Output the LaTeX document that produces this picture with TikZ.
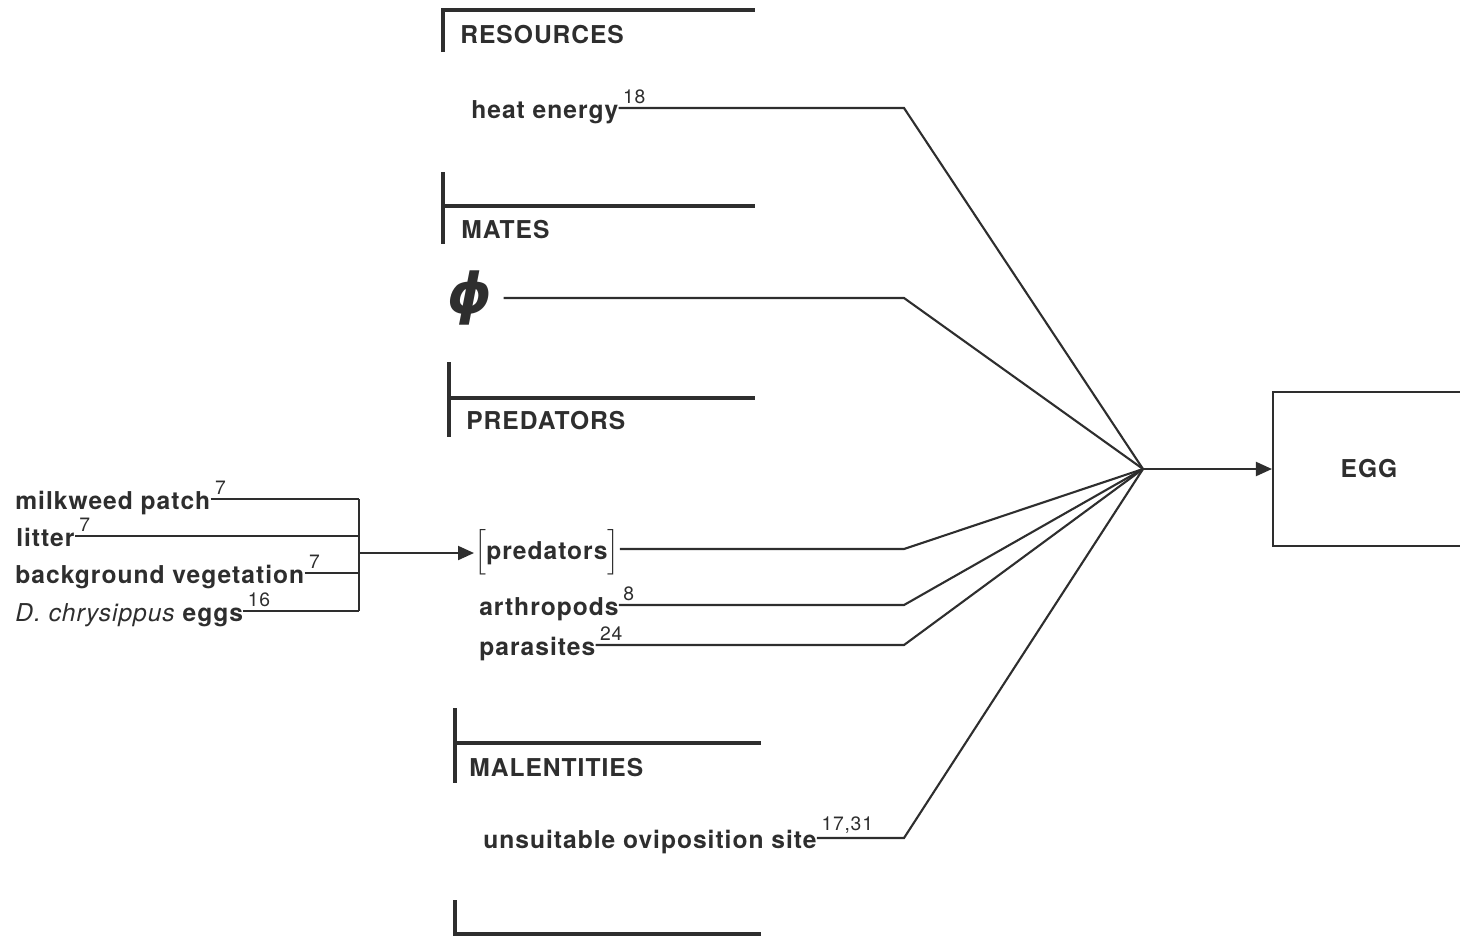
\documentclass[tikz,border=0pt]{standalone}
\usepackage{amsmath}
\usepackage{fontspec}
\setmainfont{TeX Gyre Heros}[LetterSpace=4]
\newfontfamily\symfont{DejaVu Sans}
\usetikzlibrary{arrows.meta}

\colorlet{ink}{black!82}

\begin{document}
\begin{tikzpicture}[x=0.02cm, y=-0.02cm, >={Triangle[length=3.2mm,width=2.8mm]},
  every node/.style={text=ink},
  item/.style={anchor=west, inner sep=0pt, text height=11.4pt, text depth=0pt,
    font=\fontsize{14}{16}\selectfont\bfseries},
  hdr/.style={anchor=north west, inner sep=0pt, font=\fontsize{14}{16}\selectfont\bfseries},
  refno/.style={anchor=south west, inner sep=2pt, font=\fontsize{11}{12}\selectfont},
  wire/.style={draw=ink, line width=1.2pt},
  rule/.style={draw=ink, line width=2.6pt}]

  \useasboundingbox (0,0) rectangle (1460,938);

  % headings
  \draw[rule] (443,52) -- (443,10) -- (755,10);
  \node[hdr] (res) at (460,25) {RESOURCES};
  \draw[rule] (443,172) -- (443,244);
  \draw[rule] (443,206) -- (755,206);
  \node[hdr] (mates) at (461,220) {MATES};
  \draw[rule] (449,362) -- (449,437);
  \draw[rule] (449,398) -- (755,398);
  \node[hdr] (predhdr) at (466,411) {PREDATORS};
  \draw[rule] (455,708) -- (455,783);
  \draw[rule] (455,743) -- (761,743);
  \node[hdr] (malent) at (469,758) {MALENTITIES};
  \draw[rule] (455,900) -- (455,934) -- (761,934);

  \coordinate (hub) at (1143,469);
  \coordinate (col) at (904,0);

  % factors acting on the egg
  \node[item] (heat) at (471,108) {heat energy};
  \draw[wire] (heat.east) -- node[refno, pos=0] {18} (heat.east -| col) -- (hub);

  \node[inner sep=0pt] (nil) at (470,298) {\fontsize{32}{32}\selectfont\symfont\bfseries\itshape ϕ};
  \draw[wire] ([xshift=0.22cm]nil.east) -- (nil.east -| col) -- (hub);

  \node[item] (preds) at (474,549) {$\Big[$predators$\Big]$};
  \draw[wire] (preds.east) -- (preds.east -| col) -- (hub);

  \node[item] (arth) at (479,605) {arthropods};
  \draw[wire] (arth.east) -- node[refno, pos=0] {8} (arth.east -| col) -- (hub);

  \node[item] (para) at (479,645) {parasites};
  \draw[wire] (para.east) -- node[refno, pos=0] {24} (para.east -| col) -- (hub);

  \node[item] (unsuit) at (483,838) {unsuitable oviposition site};
  \draw[wire] (unsuit.east) -- node[refno, pos=0] {17,31} (unsuit.east -| col) -- (hub);

  \node[draw=ink, line width=1.2pt, minimum width=3.84cm, minimum height=3.08cm,
    font=\fontsize{14}{16}\selectfont\bfseries] (egg) at (1369,469) {EGG};
  \draw[wire, ->] (hub) -- (egg.west);

  % what the predators depend on
  \coordinate (lj) at (359,553);
  \node[item] (milk) at (15,499) {milkweed patch};
  \node[item] (litter) at (16,536) {litter};
  \node[item] (bgveg) at (15,573) {background vegetation};
  \node[item] (dchry) at (15,611) {{\mdseries\itshape D. chrysippus} eggs};
  \draw[wire] (milk.east) -- node[refno, pos=0] {7} (milk.east -| lj);
  \draw[wire] (litter.east) -- node[refno, pos=0] {7} (litter.east -| lj);
  \draw[wire] (bgveg.east) -- node[refno, pos=0] {7} (bgveg.east -| lj);
  \draw[wire] (dchry.east) -- node[refno, pos=0] {16} (dchry.east -| lj);
  \draw[wire] (milk.east -| lj) -- (dchry.east -| lj);
  \draw[wire, ->] (lj) -- (lj -| preds.west);
\end{tikzpicture}
\end{document}
